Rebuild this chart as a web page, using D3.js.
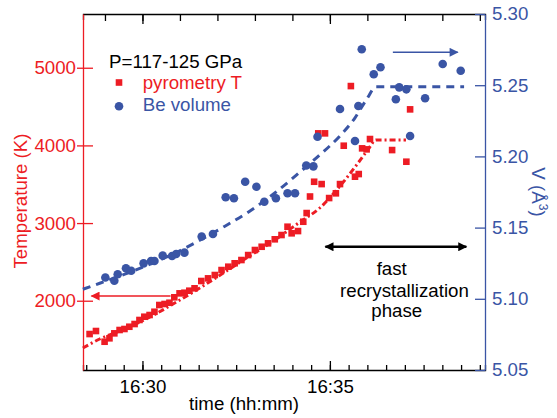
<!DOCTYPE html>
<html>
<head>
<meta charset="utf-8">
<script src="https://cdn.jsdelivr.net/npm/d3@7"></script>
<style>
  body { margin: 0; background: #fff; }
  svg text { font-family: "Liberation Sans", Arial, sans-serif; }
</style>
</head>
<body>
<div id="chart"></div>
<script>
// times are minutes after 16:00
const tempTime = [28.59, 28.76, 28.99, 29.12, 29.25, 29.39, 29.52, 29.65, 29.79, 29.92,
  30.05, 30.19, 30.32, 30.45, 30.59, 30.72, 30.85, 30.99, 31.12, 31.25, 31.39, 31.57,
  31.75, 31.93, 32.11, 32.29, 32.46, 32.64, 32.82, 33.00, 33.18, 33.35, 33.53, 33.71,
  33.87, 33.98, 34.15, 34.29, 34.38, 34.47, 34.58, 34.69, 34.78, 34.87, 34.98, 35.16,
  35.27, 35.37, 35.56, 35.67, 35.77, 35.86, 35.98, 36.07, 36.66, 37.04, 37.14];
const tempK = [1571, 1610, 1472, 1516, 1580, 1623, 1636, 1665, 1700, 1752,
  1794, 1816, 1858, 1945, 1958, 1974, 2044, 2095, 2103, 2129, 2160, 2254,
  2288, 2331, 2395, 2438, 2482, 2524, 2588, 2653, 2695, 2739, 2791, 2846,
  2953, 2868, 2897, 3017, 3129, 3342, 3532, 4155, 3502, 4155, 3322, 3383,
  3502, 3996, 4764, 3597, 3631, 3962, 3949, 4082, 3940, 3790, 4464];

const volTime = [29.01, 29.25, 29.34, 29.56, 29.70, 30.03, 30.23, 30.32, 30.54, 30.79,
  30.90, 31.12, 31.58, 31.88, 32.22, 32.44, 32.74, 33.04, 33.25, 33.56, 33.87, 34.07,
  34.37, 34.56, 34.67, 35.27, 35.67, 35.76, 35.85, 36.17, 36.35, 36.76, 36.85, 37.04,
  37.14, 37.54, 38.01, 38.49];
const volA3 = [5.115, 5.1127, 5.1172, 5.1214, 5.1197, 5.1249, 5.1265, 5.1265, 5.1303, 5.1301,
  5.1315, 5.1324, 5.1438, 5.1455, 5.1713, 5.1706, 5.1822, 5.1787, 5.1682, 5.1706, 5.1741, 5.1741,
  5.1936, 5.1930, 5.2138, 5.2333, 5.2108, 5.2354, 5.2752, 5.2577, 5.2626, 5.2401, 5.2485, 5.2471,
  5.2143, 5.2408, 5.2649, 5.2602];

// guide curves as drawn in the figure
const tempFitTime = [28.41, 28.86, 29.53, 30.20, 30.86, 31.53, 32.20, 32.86, 33.53, 34.20,
  34.73, 35.27, 35.67, 36.01, 36.23, 37.03];
const tempFitK = [1391, 1507, 1636, 1790, 1970, 2164, 2370, 2576, 2782, 3013,
  3194, 3477, 3721, 3940, 4069, 4069];
const volFitTime = [28.41, 28.86, 29.53, 30.20, 30.86, 31.53, 32.20, 32.86, 33.53, 34.20,
  34.73, 35.27, 35.67, 35.99, 36.23, 38.58];
const volFitA3 = [5.1067, 5.1109, 5.1173, 5.1243, 5.1320, 5.1411, 5.1510, 5.1615, 5.1743, 5.1890,
  5.2011, 5.2144, 5.2271, 5.2405, 5.2489, 5.2489];

const tempTicks = [2000, 3000, 4000, 5000];
const volTicks = [5.05, 5.10, 5.15, 5.20, 5.25, 5.30];
const timeLabels = [30, 35];

const red = "#ed1c24", blue = "#3a55a5";
const width = 557, height = 418;
const margin = {top: 14, right: 72, bottom: 48, left: 83};
const fs = "18.7px";

const toDate = m => new Date(2000, 0, 1, 16, 0, 0, Math.round(m * 60000));

const svg = d3.select("#chart").append("svg")
    .attr("width", width)
    .attr("height", height);

const x = d3.scaleTime()
    .domain([toDate(28.414), toDate(39.138)])
    .range([margin.left, width - margin.right]);
const yT = d3.scaleLinear()
    .domain([1108, 5692])
    .range([height - margin.bottom, margin.top]);
const yV = d3.scaleLinear()
    .domain([5.05, 5.30])
    .range([height - margin.bottom, margin.top]);

const bottom = height - margin.bottom, right = width - margin.right;

// bottom axis: minor ticks every 30 s, labelled ticks every 5 min
svg.append("g")
    .attr("transform", `translate(0,${bottom})`)
    .call(d3.axisBottom(x).ticks(d3.timeSecond.every(30)).tickSizeInner(-5).tickSizeOuter(-5).tickFormat(""))
    .call(g => g.selectAll("line, path").attr("stroke", "#000").attr("stroke-width", 1.3));
svg.append("g")
    .attr("transform", `translate(0,${bottom})`)
    .call(d3.axisBottom(x).tickValues(timeLabels.map(toDate)).tickSize(-9).tickPadding(10)
        .tickFormat(d3.timeFormat("%H:%M")))
    .call(g => g.select(".domain").remove())
    .call(g => g.selectAll("line").attr("stroke", "#000").attr("stroke-width", 1.3))
    .call(g => g.selectAll("text").attr("font-size", fs).attr("fill", "#000"));

// top axis
svg.append("g")
    .attr("transform", `translate(0,${margin.top})`)
    .call(d3.axisTop(x).ticks(d3.timeMinute.every(1)).tickSizeInner(-7).tickSizeOuter(-6).tickFormat(""))
    .call(g => g.selectAll("line, path").attr("stroke", "#000").attr("stroke-width", 1.3));
svg.append("g")
    .attr("transform", `translate(0,${margin.top})`)
    .call(d3.axisTop(x).tickValues(timeLabels.map(toDate)).tickSize(-10).tickFormat(""))
    .call(g => g.select(".domain").remove())
    .call(g => g.selectAll("line").attr("stroke", "#000").attr("stroke-width", 1.3));

// left temperature axis
svg.append("g")
    .attr("transform", `translate(${margin.left},0)`)
    .call(d3.axisLeft(yT).tickValues(tempTicks).tickSizeInner(6).tickSizeOuter(0).tickPadding(1)
        .tickFormat(d3.format("d")))
    .call(g => g.selectAll("line, path").attr("stroke", red).attr("stroke-width", 1.3))
    .call(g => g.selectAll("text").attr("font-size", fs).attr("fill", red));
svg.append("g")
    .attr("transform", `translate(${margin.left},0)`)
    .call(d3.axisLeft(yT).tickValues(tempTicks).tickSize(-10).tickFormat(""))
    .call(g => g.select(".domain").remove())
    .call(g => g.selectAll("line").attr("stroke", red).attr("stroke-width", 1.3));

// right volume axis
svg.append("g")
    .attr("transform", `translate(${right},0)`)
    .call(d3.axisRight(yV).tickValues(volTicks).tickSize(-10).tickSizeOuter(0).tickPadding(7)
        .tickFormat(d3.format(".2f")))
    .call(g => g.selectAll("line, path").attr("stroke", blue).attr("stroke-width", 1.3))
    .call(g => g.selectAll("text").attr("font-size", fs).attr("fill", blue));

// axis titles
svg.append("text")
    .attr("transform", "translate(27,201) rotate(-90)")
    .attr("text-anchor", "middle")
    .attr("font-size", fs)
    .attr("fill", red)
    .text("Temperature (K)");
const vl = svg.append("text")
    .attr("transform", "translate(532,192) rotate(90)")
    .attr("text-anchor", "middle")
    .attr("font-size", fs)
    .attr("fill", blue);
vl.append("tspan").text("V (Å");
vl.append("tspan").attr("dy", -7).attr("font-size", "12px").text("3");
vl.append("tspan").attr("dy", 7).text(")");
svg.append("text")
    .attr("x", 244).attr("y", 410)
    .attr("text-anchor", "middle")
    .attr("font-size", fs)
    .text("time (hh:mm)");

// fit curves
const tempLine = d3.line()
    .x((d, i) => x(toDate(tempFitTime[i])))
    .y(d => yT(d))
    .curve(d3.curveMonotoneX);
svg.append("path")
    .attr("d", tempLine(tempFitK))
    .attr("fill", "none")
    .attr("stroke", red)
    .attr("stroke-width", 3)
    .attr("stroke-dasharray", "6,3,2,3");

const volLine = d3.line()
    .x((d, i) => x(toDate(volFitTime[i])))
    .y(d => yV(d))
    .curve(d3.curveMonotoneX);
svg.append("path")
    .attr("d", volLine(volFitA3))
    .attr("fill", "none")
    .attr("stroke", blue)
    .attr("stroke-width", 3)
    .attr("stroke-dasharray", "8,6");

// data points
svg.append("g")
    .selectAll("rect")
    .data(tempK)
    .enter().append("rect")
    .attr("x", (d, i) => x(toDate(tempTime[i])) - 3.3)
    .attr("y", d => yT(d) - 3.3)
    .attr("width", 6.6)
    .attr("height", 6.6)
    .attr("fill", red);

svg.append("g")
    .selectAll("circle")
    .data(volA3)
    .enter().append("circle")
    .attr("cx", (d, i) => x(toDate(volTime[i])))
    .attr("cy", d => yV(d))
    .attr("r", 4.3)
    .attr("fill", blue);

// arrows
const defs = svg.append("defs");
function marker(id, color, w, h) {
    defs.append("marker")
        .attr("id", id)
        .attr("viewBox", "0 0 10 10")
        .attr("refX", 9).attr("refY", 5)
        .attr("markerUnits", "userSpaceOnUse")
        .attr("markerWidth", w).attr("markerHeight", h)
        .attr("orient", "auto-start-reverse")
        .append("path")
        .attr("d", "M0,0L10,5L0,10z")
        .attr("fill", color);
}
marker("ar-red", red, 12, 9);
marker("ar-blue", blue, 13, 9);
marker("ar-black", "#000", 11, 9);

svg.append("line")
    .attr("x1", x(toDate(30.75))).attr("x2", x(toDate(28.64)))
    .attr("y1", yT(2060)).attr("y2", yT(2060))
    .attr("stroke", red).attr("stroke-width", 1.5)
    .attr("marker-end", "url(#ar-red)");
svg.append("line")
    .attr("x1", x(toDate(36.68))).attr("x2", x(toDate(38.41)))
    .attr("y1", yV(5.2731)).attr("y2", yV(5.2731))
    .attr("stroke", blue).attr("stroke-width", 1.5)
    .attr("marker-end", "url(#ar-blue)");
svg.append("line")
    .attr("x1", x(toDate(34.88))).attr("x2", x(toDate(38.64)))
    .attr("y1", yT(2695)).attr("y2", yT(2695))
    .attr("stroke", "#000").attr("stroke-width", 2.5)
    .attr("marker-start", "url(#ar-black)")
    .attr("marker-end", "url(#ar-black)");

const note = [["fast", 391.7, 275], ["recrystallization", 404.5, 297], ["phase", 396.7, 317]];
svg.append("g")
    .selectAll("text")
    .data(note)
    .enter().append("text")
    .attr("x", d => d[1]).attr("y", d => d[2])
    .attr("text-anchor", "middle")
    .attr("font-size", fs)
    .text(d => d[0]);

// legend
svg.append("text").attr("x", 109).attr("y", 68).attr("font-size", fs).text("P=117-125 GPa");
svg.append("rect").attr("x", 115.7).attr("y", 79.2).attr("width", 6.6).attr("height", 6.6).attr("fill", red);
svg.append("text").attr("x", 142.7).attr("y", 89).attr("font-size", fs).attr("fill", red).text("pyrometry T");
svg.append("circle").attr("cx", 119).attr("cy", 106.3).attr("r", 4.3).attr("fill", blue);
svg.append("text").attr("x", 142.7).attr("y", 110.7).attr("font-size", fs).attr("fill", blue).text("Be volume");
</script>
</body>
</html>
